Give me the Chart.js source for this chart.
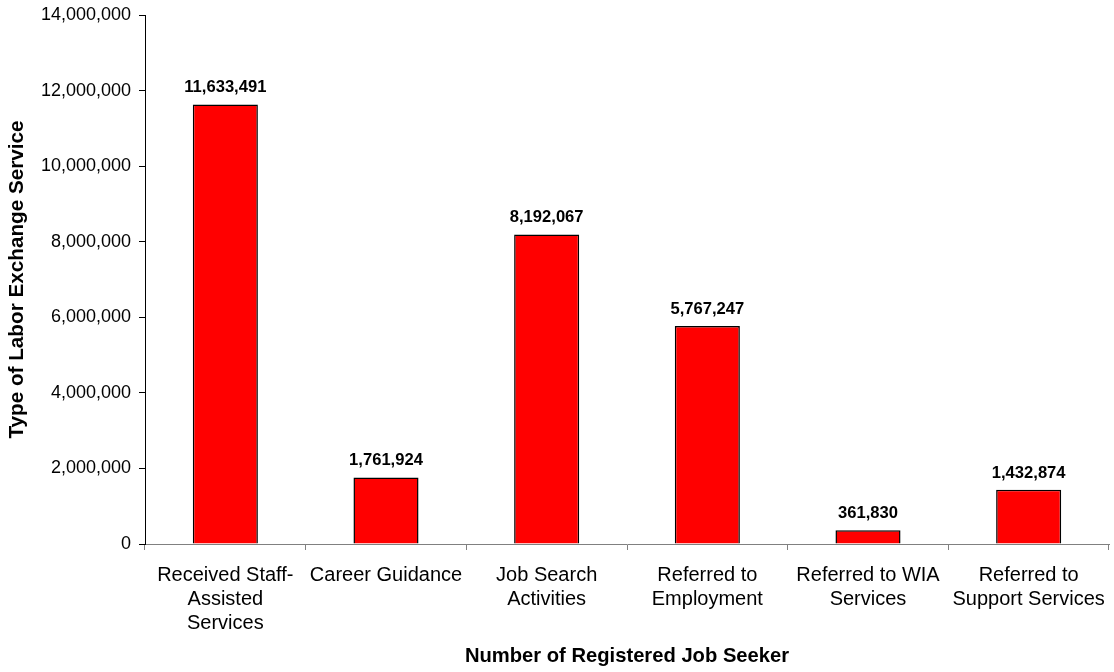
<!DOCTYPE html>
<html>
<head>
<meta charset="utf-8">
<script src="https://cdn.jsdelivr.net/npm/chart.js@4.4.0/dist/chart.umd.min.js"></script>
<style>
html,body{margin:0;padding:0;background:#fff;}
#wrap{width:1114px;height:672px;position:relative;}
</style>
</head>
<body>
<div id="wrap"><canvas id="c" width="1114" height="672"></canvas></div>
<script>
const categories = [
  ["Received Staff-","Assisted","Services"],
  ["Career Guidance"],
  ["Job Search","Activities"],
  ["Referred to","Employment"],
  ["Referred to WIA","Services"],
  ["Referred to","Support Services"]
];
const values = [11633491, 1761924, 8192067, 5767247, 361830, 1432874];
const yMin = 0, yMax = 14000000, yStep = 2000000;
const yTitle = "Type of Labor Exchange Service";
const xTitle = "Number of Registered Job Seeker";

const FONT = "'Liberation Sans', Arial, sans-serif";
const fmt = v => v.toLocaleString('en-US');

const valueLabels = {
  id: 'valueLabels',
  afterDatasetsDraw(chart) {
    const ctx = chart.ctx;
    const meta = chart.getDatasetMeta(0);
    ctx.save();
    ctx.font = "bold 16.6px " + FONT;
    ctx.fillStyle = "#000";
    ctx.textAlign = "center";
    ctx.textBaseline = "alphabetic";
    meta.data.forEach((el, i) => {
      ctx.fillText(fmt(chart.data.datasets[0].data[i]), el.x, el.y - 12);
    });
    ctx.restore();
  }
};

new Chart(document.getElementById('c'), {
  type: 'bar',
  data: {
    labels: categories,
    datasets: [{
      data: values,
      backgroundColor: '#FF0000',
      borderColor: '#000000',
      borderWidth: 1.5,
      barPercentage: 0.405,
      categoryPercentage: 1.0
    }]
  },
  options: {
    responsive: false,
    animation: false,
    devicePixelRatio: 1,
    layout: { padding: { top: 15, right: 5, bottom: 0, left: 0 } },
    plugins: { legend: { display: false }, tooltip: { enabled: false } },
    scales: {
      x: {
        offset: true,
        grid: { display: true, drawOnChartArea: false, drawTicks: true, tickLength: 6, color: '#808080', offset: true },
        border: { display: true, color: '#808080', width: 1 },
        ticks: { color: '#000', font: { family: FONT, size: 20, lineHeight: 1.18 }, padding: 14, maxRotation: 0, autoSkip: false },
        title: { display: true, text: xTitle, color: '#000', font: { family: FONT, size: 20.2, weight: 'bold', lineHeight: 1.2 }, padding: { top: 0, bottom: 3 } },
        afterFit(s) { s.height = 128; s.paddingLeft = 0; s.paddingRight = 0; }
      },
      y: {
        min: yMin, max: yMax,
        grid: { display: true, drawOnChartArea: false, drawTicks: true, tickLength: 6, color: '#000' },
        border: { display: true, color: '#000', width: 1 },
        ticks: { stepSize: yStep, color: '#000', font: { family: FONT, size: 18 }, padding: 8, callback: v => fmt(v) },
        title: { display: true, text: yTitle, color: '#000', font: { family: FONT, size: 20.7, weight: 'bold', lineHeight: 1.2 }, padding: { top: 5, bottom: 0 } },
        afterFit(s) { s.width = 145; s.paddingTop = 0; s.paddingBottom = 0; }
      }
    }
  },
  plugins: [valueLabels]
});
</script>
</body>
</html>
